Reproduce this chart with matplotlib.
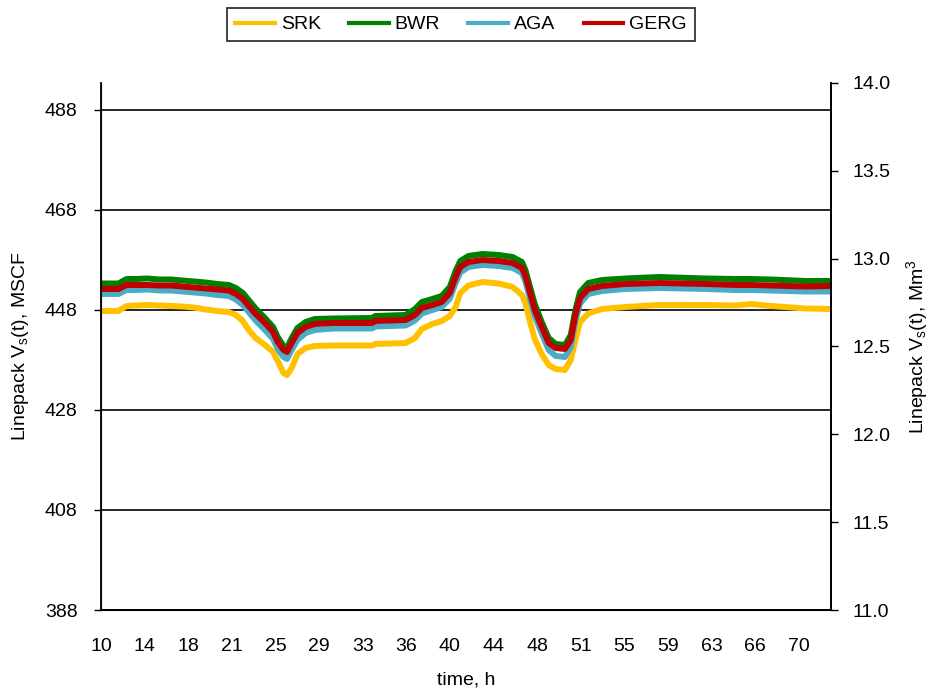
import numpy as np
import matplotlib
matplotlib.use("Agg")
import matplotlib.pyplot as plt

plt.rcParams['font.family'] = ['Liberation Sans', 'DejaVu Sans']
plt.rcParams['mathtext.fontset'] = 'custom'
plt.rcParams['mathtext.rm'] = 'Liberation Sans'
plt.rcParams['mathtext.it'] = 'Liberation Sans'

# time, h
t = [10, 11.5, 12.2, 13, 14, 15, 16, 17, 18, 19, 20, 21, 21.6, 22.2, 22.7,
     23.3, 24.1, 24.8, 25.2, 25.7, 26.0, 26.4, 26.9, 27.6, 28.4, 30, 33.3,
     33.6, 36.2, 37.0, 37.6, 38.5, 39.3, 40.0, 40.5, 40.9, 41.6, 42.8, 44.2,
     45.4, 46.2, 46.5, 46.9, 47.3, 47.9, 48.5, 49.1, 49.9, 50.4, 50.8, 51.2,
     51.9, 53.1, 55.1, 58, 62, 64.6, 65.9, 67.6, 70.6, 72.8]

# linepack, MSCF
srk = [447.8, 447.8, 448.8, 448.9, 449.0, 448.9, 448.8, 448.7, 448.5, 448.1,
       447.8, 447.6, 447.0, 445.8, 444.0, 442.4, 441.0, 439.6, 437.8, 435.4,
       435.0, 436.4, 439.2, 440.4, 440.8, 440.9, 440.9, 441.2, 441.4, 442.4,
       444.2, 445.2, 445.8, 446.8, 448.6, 451.4, 452.9, 453.6, 453.3, 452.6,
       451.0, 449.4, 445.6, 442.2, 439.2, 437.0, 436.2, 436.0, 438.0, 442.0,
       445.6, 447.3, 448.2, 448.6, 449.0, 449.0, 448.9, 449.2, 448.8, 448.3,
       448.2]
bwr = [453.3, 453.3, 454.2, 454.2, 454.3, 454.1, 454.1, 453.9, 453.7, 453.5,
       453.2, 453.0, 452.4, 451.4, 450.0, 448.3, 446.4, 444.6, 442.6, 440.8,
       440.4, 442.4, 444.4, 445.6, 446.2, 446.3, 446.4, 446.8, 447.0, 448.2,
       449.6, 450.2, 450.8, 452.6, 455.8, 457.8, 458.8, 459.2, 459.0, 458.6,
       457.6, 456.0, 452.6, 449.2, 445.6, 442.4, 441.2, 441.0, 443.0, 448.0,
       451.6, 453.4, 454.0, 454.3, 454.6, 454.3, 454.2, 454.2, 454.1, 453.8,
       453.8]
aga = [451.2, 451.2, 452.0, 452.0, 452.1, 451.9, 451.9, 451.7, 451.5, 451.3,
       451.0, 450.8, 450.1, 449.0, 447.6, 445.9, 444.0, 442.2, 440.2, 438.6,
       438.2, 440.0, 442.0, 443.4, 444.0, 444.3, 444.3, 444.7, 444.9, 445.9,
       447.3, 448.0, 448.6, 450.3, 453.4, 455.5, 456.6, 457.0, 456.8, 456.4,
       455.4, 453.7, 450.2, 446.8, 443.3, 440.0, 438.8, 438.6, 440.6, 445.8,
       449.3, 451.2, 451.8, 452.2, 452.4, 452.2, 452.0, 452.0, 451.9, 451.7,
       451.7]
gerg = [452.2, 452.2, 453.0, 453.0, 453.0, 452.9, 452.9, 452.7, 452.5, 452.3,
        452.1, 451.9, 451.2, 450.2, 448.8, 447.2, 445.4, 443.6, 441.6, 440.0,
        439.6, 441.4, 443.4, 444.6, 445.2, 445.4, 445.4, 445.8, 446.0, 447.0,
        448.4, 449.0, 449.6, 451.4, 454.6, 456.6, 457.6, 458.0, 457.8, 457.4,
        456.4, 454.8, 451.4, 448.0, 444.6, 441.4, 440.4, 440.2, 442.0, 447.0,
        450.4, 452.2, 452.8, 453.2, 453.4, 453.2, 453.0, 453.0, 452.9, 452.7,
        452.8]

series = [("SRK", srk, "#FFC000"), ("BWR", bwr, "#008000"),
          ("AGA", aga, "#4BACC6"), ("GERG", gerg, "#C00000")]

xtick_labels = ['10', '14', '18', '21', '25', '29', '33', '36', '40', '44',
                '48', '51', '55', '59', '63', '66', '70']
left_ticks = [388, 408, 428, 448, 468, 488]
right_ticks = [11.0, 11.5, 12.0, 12.5, 13.0, 13.5, 14.0]

fs = 14

fig = plt.figure(figsize=(9.35, 6.95), dpi=100)
ax = fig.add_axes([0.108, 0.1223, 0.781, 0.7583])

for name, vals, col in series:
    ax.plot(t, vals, color=col, lw=4.3, label=name, solid_joinstyle='round')

ax.set_xlim(10, 72.8)
ax.set_ylim(388, 493.4)
ax.set_xticks(10 + 3.75 * np.arange(len(xtick_labels)))
ax.set_xticklabels(xtick_labels)
ax.set_yticks(left_ticks)
ax.tick_params(axis='x', length=0, labelsize=fs, pad=20)
ax.tick_params(axis='y', length=5, width=1, labelsize=fs, direction='out', pad=12)
ax.yaxis.grid(True, color='black', lw=1.2)
ax.set_axisbelow(True)
ax.spines['top'].set_visible(False)
for s in ['left', 'right', 'bottom']:
    ax.spines[s].set_linewidth(1.3)
ax.set_xlabel("time, h", fontsize=fs, labelpad=12)
ax.set_ylabel("Linepack V$_\\mathrm{s}$(t), MSCF", fontsize=fs, labelpad=10)

ax2 = ax.twinx()
ax2.set_ylim(11.0, 14.0)
ax2.set_yticks(right_ticks)
ax2.set_yticklabels([f"{v:.1f}" for v in right_ticks])
ax2.tick_params(axis='y', length=5, width=1, labelsize=fs, direction='out', pad=10)
ax2.spines['top'].set_visible(False)
ax2.spines['right'].set_linewidth(1.3)
ax2.set_ylabel("Linepack V$_\\mathrm{s}$(t), Mm$^3$", fontsize=fs, labelpad=10)

handles, labels = ax.get_legend_handles_labels()
leg = fig.legend(handles, labels, loc='upper center', ncol=4,
                 bbox_to_anchor=(0.493, 0.997), fontsize=fs, frameon=True,
                 fancybox=False, edgecolor='black', handlelength=2.05,
                 handletextpad=0.3, columnspacing=1.45, borderpad=0.4,
                 borderaxespad=0.3)
leg.get_frame().set_linewidth(1.3)
for h in leg.get_lines():
    h.set_linewidth(3.0)

fig.savefig("out.png", dpi=100)
